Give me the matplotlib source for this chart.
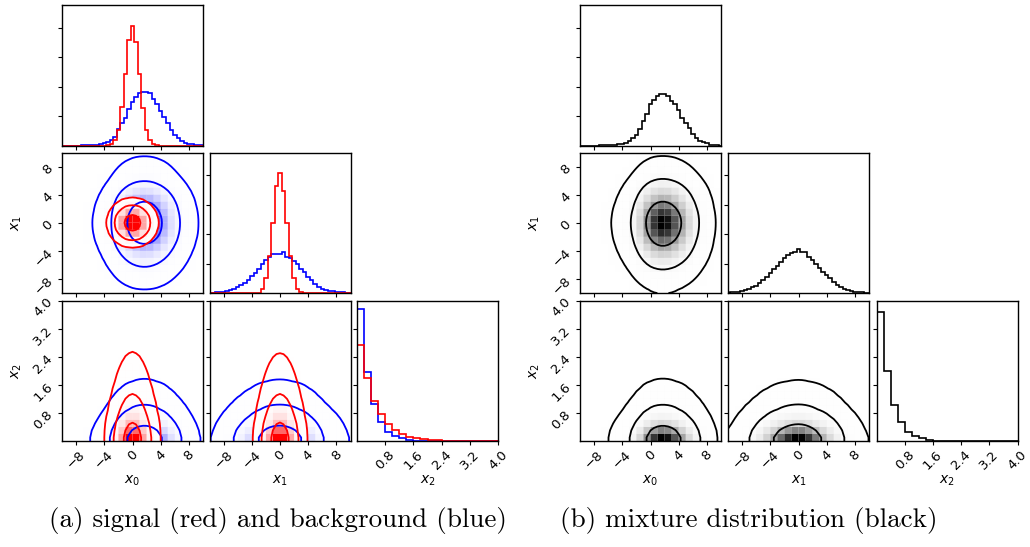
import numpy as np
import matplotlib
matplotlib.use("Agg")
import matplotlib.pyplot as plt
from matplotlib.colors import LinearSegmentedColormap, to_rgba

# 1-d histogram bin centres (x0, x1: width 0.5, x2: width 0.2)
x01_centres = np.arange(-10, 10.01, 0.5)
x2_centres = np.arange(0.1, 4.0, 0.2)

# heights (arbitrary units, tick spacing = 1)
red_x0 = [0, 0, 0, 0, 0, 0, 0, 0, 0, 0, 0, 0, 0, 0.01, 0.05, 0.18, 0.52, 1.30,
          2.42, 3.59, 4.06, 3.51, 2.42, 1.28, 0.52, 0.18, 0.05, 0.01,
          0, 0, 0, 0, 0, 0, 0, 0, 0, 0, 0, 0, 0]
blue_x0 = [0, 0, 0, 0, 0, 0, 0.005, 0.01, 0.01, 0.02, 0.03, 0.04, 0.07, 0.12,
           0.19, 0.30, 0.55, 0.75, 0.92, 1.25, 1.47, 1.66, 1.78, 1.83, 1.83,
           1.80, 1.58, 1.40, 1.18, 0.98, 0.75, 0.52, 0.36, 0.26, 0.17, 0.10,
           0.06, 0.04, 0.02, 0.01, 0.005]
red_x1 = [0, 0, 0, 0, 0, 0, 0, 0, 0, 0, 0, 0, 0, 0, 0.01, 0.14, 0.50, 1.25,
          2.39, 3.64, 4.09, 3.48, 2.39, 1.25, 0.50, 0.14, 0.03,
          0, 0, 0, 0, 0, 0, 0, 0, 0, 0, 0, 0, 0, 0]
blue_x1 = [0.005, 0.01, 0.02, 0.03, 0.05, 0.07, 0.09, 0.15, 0.20, 0.27, 0.33,
           0.44, 0.57, 0.68, 0.82, 0.97, 1.12, 1.24, 1.31, 1.33, 1.34, 1.41,
           1.24, 1.20, 1.08, 0.98, 0.82, 0.70, 0.55, 0.43, 0.31, 0.21, 0.15,
           0.10, 0.08, 0.06, 0.04, 0.03, 0.02, 0.01, 0.005]
red_x2 = [3.43, 2.25, 1.44, 0.96, 0.61, 0.39, 0.25, 0.13, 0.10, 0.06, 0.04,
          0.02, 0.01, 0.01, 0.005, 0.005, 0.003, 0.002, 0.001, 0.001]
blue_x2 = [4.68, 2.45, 1.32, 0.68, 0.33, 0.17, 0.10, 0.04, 0.015, 0.005,
           0.003, 0.002, 0.001, 0, 0, 0, 0, 0, 0, 0]
black_x0 = [0, 0, 0, 0, 0, 0, 0.005, 0.005, 0.01, 0.02, 0.03, 0.04, 0.06,
            0.10, 0.15, 0.24, 0.37, 0.57, 0.83, 1.08, 1.42, 1.56, 1.67, 1.74,
            1.76, 1.68, 1.53, 1.40, 1.20, 0.95, 0.75, 0.58, 0.40, 0.27, 0.17,
            0.12, 0.07, 0.03, 0.02, 0.01, 0]
black_x1 = [0.01, 0.02, 0.03, 0.05, 0.07, 0.10, 0.15, 0.19, 0.25, 0.35, 0.45,
            0.56, 0.68, 0.80, 0.93, 1.06, 1.18, 1.30, 1.36, 1.41, 1.50, 1.41,
            1.38, 1.24, 1.13, 0.99, 0.85, 0.73, 0.61, 0.50, 0.39, 0.28, 0.20,
            0.14, 0.10, 0.07, 0.05, 0.04, 0.02, 0.01, 0.01]
black_x2 = [4.58, 2.48, 1.29, 0.67, 0.33, 0.18, 0.10, 0.05, 0.01, 0.005,
            0.003, 0.002, 0.001, 0, 0, 0, 0, 0, 0, 0]

labels = ["$x_0$", "$x_1$", "$x_2$"]
tick_vals = [[-8, -4, 0, 4, 8], [-8, -4, 0, 4, 8], [0.8, 1.6, 2.4, 3.2, 4.0]]
tick_text = [["\u22128", "\u22124", "0", "4", "8"],
             ["\u22128", "\u22124", "0", "4", "8"],
             ["0.8", "1.6", "2.4", "3.2", "4.0"]]
lims = [(-10, 10), (-10, 10), (0, 4)]
diag_top = [4.78, 4.78, 5.0]
sigma_levels = [0.393, 0.865, 0.989]


def smooth(H, s):
    r = int(np.ceil(3 * s))
    k = np.exp(-0.5 * (np.arange(-r, r + 1) / s) ** 2)
    k /= k.sum()
    Hp = np.pad(H, r, mode="symmetric")
    Hp = np.apply_along_axis(lambda v: np.convolve(v, k, mode="valid"), 0, Hp)
    Hp = np.apply_along_axis(lambda v: np.convolve(v, k, mode="valid"), 1, Hp)
    return Hp


def coarse(h, dim):
    h = np.asarray(h, float)
    if dim == 2:
        return h, np.arange(0, 4.01, 0.2)
    return 0.5 * h[:-2:2] + h[1:-1:2] + 0.5 * h[2::2], np.arange(-10, 10.01, 1.0)


def fine(h, dim):
    c = x2_centres if dim == 2 else x01_centres
    return np.asarray(h, float), c


def padded(c):
    d = c[1] - c[0]
    return np.concatenate([[c[0] - 2 * d, c[0] - d], c, [c[-1] + d, c[-1] + 2 * d]])


def hist2d(ax, hx, hy, dx, dy, color):
    # contours from the finer grid, smoothed
    fx, cx = fine(hx, dx)
    fy, cy = fine(hy, dy)
    H = smooth(np.outer(fx, fy), 1.5)
    flat = np.sort(H.ravel())[::-1]
    cum = np.cumsum(flat) / flat.sum()
    V = sorted(flat[cum <= f][-1] for f in sigma_levels)
    H2 = np.pad(H, 2, mode="edge")
    X2, Y2 = padded(cx), padded(cy)
    ax.contourf(X2, Y2, H2.T, [V[0], H2.max()], colors=["white"],
                antialiased=False, zorder=1)
    # density shading on the coarse 2-d grid
    gx, ex = coarse(hx, dx)
    gy, ey = coarse(hy, dy)
    Hc = smooth(np.outer(gx, gy), 0.9)
    cmap = LinearSegmentedColormap.from_list("d", [to_rgba(color), (1, 1, 1, 0)])
    ax.pcolor(ex, ey, Hc.max() - Hc.T, cmap=cmap, antialiased=True, zorder=1)
    ax.contour(X2, Y2, H2.T, V, colors=[color], linewidths=1.3, zorder=2)


def diag_edges(dim):
    if dim == 2:
        return np.arange(0, 4.01, 0.2)
    return np.arange(-10.25, 10.26, 0.5)


fig = plt.figure(figsize=(10.3, 5.47), dpi=100)
W, Hfig = 1030.0, 547.0


def add_ax(left, top, w=141.0, h=140.5):
    return fig.add_axes([left / W, 1 - (top + h) / Hfig, w / W, h / Hfig])


def corner(lefts, sets):
    tops = [5.0, 152.5, 300.5]
    for i in range(3):
        for j in range(i + 1):
            ax = add_ax(lefts[j], tops[i])
            if i == j:
                for color, hs in sets:
                    ax.stairs(hs[i], diag_edges(i), color=color, lw=1.2)
                ax.set_ylim(0, diag_top[i])
                ax.set_yticks([1, 2, 3, 4])
                ax.set_yticklabels([])
            else:
                for color, hs in sets:
                    hist2d(ax, hs[j], hs[i], j, i, color)
                ax.set_ylim(*lims[i])
                ax.set_yticks(tick_vals[i])
                if j == 0:
                    ax.set_yticklabels(tick_text[i], rotation=45, fontsize=9.5)
                    ax.set_ylabel(labels[i], fontsize=10)
                    ax.yaxis.set_label_coords(-0.27, 0.5)
                else:
                    ax.set_yticklabels([])
            ax.set_xlim(*lims[j])
            ax.set_xticks(tick_vals[j])
            if i == 2:
                ax.set_xticklabels(tick_text[j], rotation=45, fontsize=9.5)
                ax.set_xlabel(labels[j], fontsize=10)
                ax.xaxis.set_label_coords(0.5, -0.235)
            else:
                ax.set_xticklabels([])
            ax.tick_params(length=3, width=0.8, pad=2)
            for s in ax.spines.values():
                s.set_linewidth(1.0)


corner([62.0, 209.5, 357.0],
       [("blue", [blue_x0, blue_x1, blue_x2]),
        ("red", [red_x0, red_x1, red_x2])])
corner([580.0, 728.0, 876.5],
       [("black", [black_x0, black_x1, black_x2])])

fig.text(278 / W, 1 - 520 / Hfig, "(a) signal (red) and background (blue)",
         family="cmr10", fontsize=19.5, ha="center", va="center")
fig.text(749 / W, 1 - 520 / Hfig, "(b) mixture distribution (black)",
         family="cmr10", fontsize=19.5, ha="center", va="center")

fig.savefig("out.png", dpi=100)
